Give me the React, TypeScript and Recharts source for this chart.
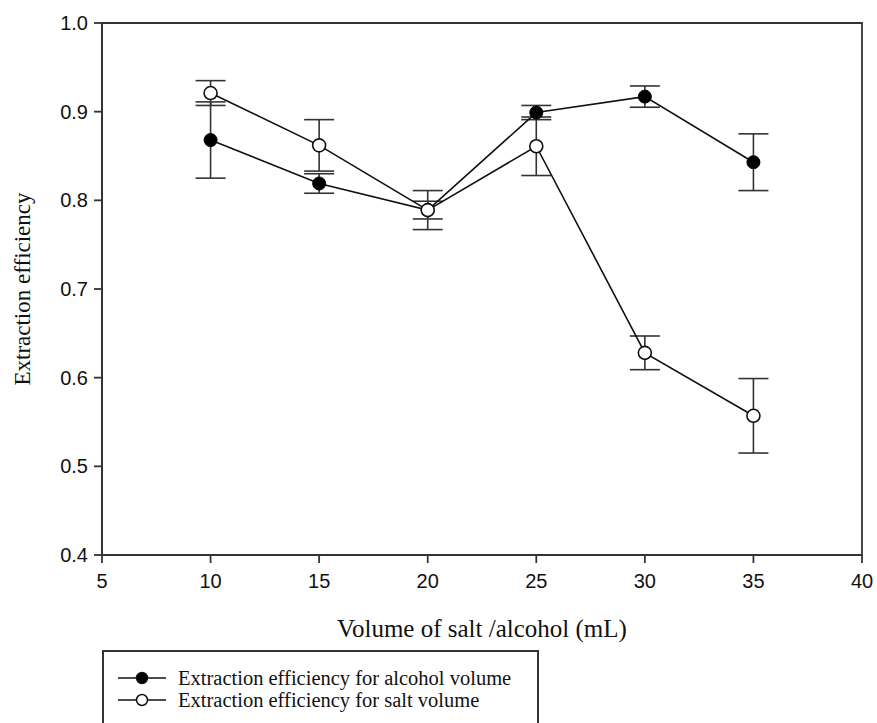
import {
  ComposedChart,
  Line,
  XAxis,
  YAxis,
  ErrorBar,
  Legend,
  ReferenceArea,
} from "recharts";

const volumes = [10, 15, 20, 25, 30, 35];
const alcoholEff = [0.868, 0.819, 0.789, 0.899, 0.917, 0.843];
const alcoholErr = [0.043, 0.011, 0.01, 0.008, 0.012, 0.032];
const saltEff = [0.921, 0.862, 0.789, 0.861, 0.628, 0.557];
const saltErr = [0.014, 0.029, 0.022, 0.033, 0.019, 0.042];

const xTicks = [5, 10, 15, 20, 25, 30, 35, 40];
const yTicks = [0.4, 0.5, 0.6, 0.7, 0.8, 0.9, 1.0];

const data = volumes.map((v, i) => ({
  volume: v,
  alcohol: alcoholEff[i],
  alcoholErr: alcoholErr[i],
  salt: saltEff[i],
  saltErr: saltErr[i],
}));

const AXIS = "#333";
const SERIF = "'Liberation Serif', 'Times New Roman', serif";
const SANS = "'Liberation Sans', Arial, sans-serif";

const XTick = ({ x, y, payload }: any) => (
  <text x={x} y={y + 23} textAnchor="middle" fontFamily={SANS} fontSize={20} fill="#111">
    {payload.value}
  </text>
);

const YTick = ({ x, y, payload }: any) => (
  <text x={x - 4} y={y + 7} textAnchor="end" fontFamily={SANS} fontSize={20} fill="#111">
    {Number(payload.value).toFixed(1)}
  </text>
);

const YTitle = ({ viewBox }: any) => {
  const cy = viewBox.y + viewBox.height / 2;
  return (
    <text
      x={30}
      y={cy}
      textAnchor="middle"
      fontFamily={SERIF}
      fontSize={23}
      fill="#111"
      transform={`rotate(-90, 30, ${cy})`}
    >
      Extraction efficiency
    </text>
  );
};

const XTitle = ({ viewBox }: any) => (
  <text
    x={viewBox.x + viewBox.width / 2}
    y={637}
    textAnchor="middle"
    fontFamily={SERIF}
    fontSize={25}
    fill="#111"
  >
    Volume of salt /alcohol (mL)
  </text>
);

const LegendBox = () => {
  const rows = [
    { label: "Extraction efficiency for alcohol volume", fill: "#000" },
    { label: "Extraction efficiency for salt volume", fill: "#fff" },
  ];
  return (
    <div
      style={{
        width: 437,
        height: 90,
        border: "2px solid #333",
        boxSizing: "border-box",
        background: "#fff",
        paddingTop: 15,
      }}
    >
      {rows.map((r) => (
        <div key={r.label} style={{ display: "flex", alignItems: "center", height: 22 }}>
          <svg width={62} height={16} style={{ marginLeft: 12, flexShrink: 0 }}>
            <line x1={2} y1={8} x2={50} y2={8} stroke="#111" strokeWidth={1.6} />
            <circle cx={26} cy={8} r={5.5} fill={r.fill} stroke="#111" strokeWidth={1.5} />
          </svg>
          <span style={{ fontFamily: SERIF, fontSize: 20.5, color: "#111", lineHeight: "20px", whiteSpace: "nowrap" }}>
            {r.label}
          </span>
        </div>
      ))}
    </div>
  );
};

export default function App() {
  return (
    <div style={{ position: "absolute", left: 0, top: 0, background: "#fff" }}>
      <ComposedChart
        width={877}
        height={723}
        data={data}
        margin={{ top: 23, right: 15, left: 0, bottom: 78 }}
      >
        <XAxis
          dataKey="volume"
          type="number"
          domain={[5, 40]}
          ticks={xTicks}
          height={90}
          tickSize={8}
          stroke={AXIS}
          strokeWidth={1.8}
          tick={<XTick />}
          label={<XTitle />}
        />
        <YAxis
          type="number"
          domain={[0.4, 1.0]}
          ticks={yTicks}
          width={102}
          tickSize={8}
          stroke={AXIS}
          strokeWidth={1.8}
          tick={<YTick />}
          label={<YTitle />}
        />
        <ReferenceArea
          x1={5}
          x2={40}
          y1={0.4}
          y2={1.0}
          fill="none"
          stroke={AXIS}
          strokeWidth={1.8}
          fillOpacity={0}
        />
        <Line
          dataKey="alcohol"
          stroke="#111"
          strokeWidth={1.6}
          isAnimationActive={false}
          dot={{ r: 6.5, fill: "#000", stroke: "#000", strokeWidth: 1 }}
          activeDot={false}
        >
          <ErrorBar dataKey="alcoholErr" width={15} stroke="#333" strokeWidth={1.6} direction="y" />
        </Line>
        <Line
          dataKey="salt"
          stroke="#111"
          strokeWidth={1.6}
          isAnimationActive={false}
          dot={{ r: 6.5, fill: "#fff", stroke: "#111", strokeWidth: 1.6 }}
          activeDot={false}
        >
          <ErrorBar dataKey="saltErr" width={15} stroke="#333" strokeWidth={1.6} direction="y" />
        </Line>
        <Legend
          verticalAlign="middle"
          layout="horizontal"
          content={<LegendBox />}
          wrapperStyle={{ top: 650, left: 102, width: 437, bottom: "auto", right: "auto" }}
        />
      </ComposedChart>
    </div>
  );
}
